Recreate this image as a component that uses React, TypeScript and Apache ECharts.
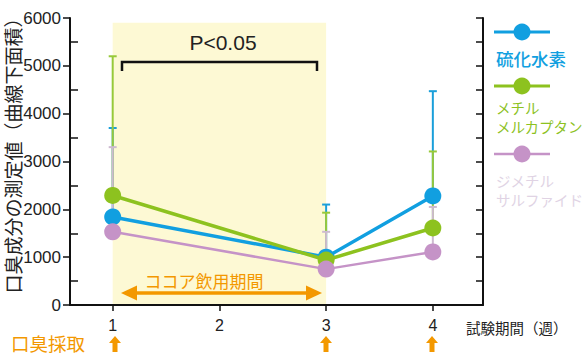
import React, { useEffect, useRef } from 'react';
import * as echarts from 'echarts';

// ---- data ----
const weeks = [1, 3, 4];
const h2sValues = [1840, 1000, 2280];
const h2sUpper = [3700, 2100, 4470];
const mmValues = [2290, 940, 1610];
const mmUpper = [5200, 1930, 3210];
const dmsValues = [1530, 750, 1110];
const dmsUpper = [3300, 1530, 2050];
const seriesNames = ['硫化水素', 'メチルメルカプタン', 'ジメチルサルファイド'];
const xTickValues = [1, 2, 3, 4];
const yMinorTicks = [500, 1500, 2500, 3500, 4500, 5500];
const cocoaPeriod = [1, 3];
const cocoaBandTop = 5900;

const BLUE = '#119fe0';
const GREEN = '#8dc21f';
const PURPLE = '#c593c7';
const ORANGE = '#f39800';
const FONT = 'Arial, "Liberation Sans", "Noto Sans CJK JP", sans-serif';
const JP = '"Noto Sans CJK JP", sans-serif';

function zipPts(xs: number[], ys: number[]) {
  return xs.map((x, i) => [x, ys[i]]);
}
function zipErr(xs: number[], lo: number[], hi: number[]) {
  return xs.map((x, i) => [x, lo[i], hi[i]]);
}

function errSeries(name: string, data: number[][], color: string, z: number) {
  return {
    type: 'custom',
    name: name + '-err',
    z,
    silent: true,
    encode: { x: 0, y: [1, 2] },
    data,
    renderItem: (params: any, api: any) => {
      const x = api.value(0);
      const p0 = api.coord([x, api.value(1)]);
      const p1 = api.coord([x, api.value(2)]);
      return {
        type: 'group',
        children: [
          { type: 'line', shape: { x1: p0[0], y1: p0[1], x2: p1[0], y2: p1[1] }, style: { stroke: color, lineWidth: 2 } },
          { type: 'line', shape: { x1: p1[0] - 4, y1: p1[1], x2: p1[0] + 4, y2: p1[1] }, style: { stroke: color, lineWidth: 2 } },
        ],
      };
    },
  };
}

function lineSeries(name: string, data: number[][], color: string, width: number, z: number) {
  return {
    type: 'line',
    name,
    data,
    z,
    symbol: 'circle',
    symbolSize: 17,
    showSymbol: true,
    lineStyle: { color, width },
    itemStyle: { color },
  };
}

function upArrow(cx: number) {
  return {
    type: 'polygon',
    z: 100,
    shape: {
      points: [
        [cx, 336], [cx + 6, 343], [cx + 2.5, 343], [cx + 2.5, 352],
        [cx - 2.5, 352], [cx - 2.5, 343], [cx - 6, 343],
      ],
    },
    style: { fill: ORANGE },
  };
}

export default function App() {
  const ref = useRef<HTMLDivElement>(null);
  useEffect(() => {
    if (!ref.current) return;
    const chart = echarts.init(ref.current, undefined, { renderer: 'svg' });
    const yCommon = { type: 'value', min: 0, max: 6000, splitLine: { show: false } };
    const arrowX = [115, 326, 432];
    const g = (el: any) => ({ z: 100, ...el });
    chart.setOption({
      animation: false,
      grid: { left: 70, right: 102, top: 18, bottom: 52, containLabel: false, outerBoundsMode: 'none' },
      xAxis: {
        type: 'value',
        min: 0.6,
        max: 4.47,
        splitLine: { show: false },
        axisLine: { show: true, lineStyle: { color: '#111', width: 2 } },
        axisTick: { show: true, customValues: xTickValues, length: 6, lineStyle: { color: '#111', width: 1.5 } },
        axisLabel: { customValues: xTickValues, fontSize: 16, color: '#222', margin: 12, fontFamily: FONT },
      },
      yAxis: [
        {
          ...yCommon,
          position: 'left',
          interval: 1000,
          axisLine: { show: true, lineStyle: { color: '#111', width: 2 } },
          axisTick: { show: true, length: 7, lineStyle: { color: '#111', width: 1.5 } },
          axisLabel: { fontSize: 17, color: '#222', margin: 9, fontFamily: FONT, formatter: (v: number) => String(v) },
        },
        {
          ...yCommon,
          position: 'left',
          axisLine: { show: false },
          axisTick: { show: true, inside: true, customValues: yMinorTicks, length: 8, lineStyle: { color: '#111', width: 1.5 } },
          axisLabel: { show: false },
        },
        {
          ...yCommon,
          position: 'right',
          interval: 500,
          axisLine: { show: true, lineStyle: { color: '#111', width: 2 } },
          axisTick: { show: true, inside: true, length: 7, lineStyle: { color: '#111', width: 1.5 } },
          axisLabel: { show: false },
        },
      ],
      series: [
        {
          type: 'custom',
          name: 'band',
          z: 0,
          silent: true,
          encode: { x: [0, 1], y: 2 },
          data: [[cocoaPeriod[0], cocoaPeriod[1], cocoaBandTop]],
          renderItem: (params: any, api: any) => {
            const a = api.coord([api.value(0), api.value(2)]);
            const b = api.coord([api.value(1), 0]);
            return { type: 'rect', shape: { x: a[0], y: a[1], width: b[0] - a[0], height: b[1] - a[1] }, style: { fill: '#fdf9d4' } };
          },
        },
        errSeries(seriesNames[0], zipErr(weeks, h2sValues, h2sUpper), '#1a9fda', 1),
        errSeries(seriesNames[1], zipErr(weeks, mmValues, mmUpper), '#97c93a', 1),
        errSeries(seriesNames[2], zipErr(weeks, dmsValues, dmsUpper), '#cdbad0', 1),
        lineSeries(seriesNames[0], zipPts(weeks, h2sValues), BLUE, 3.5, 3),
        lineSeries(seriesNames[1], zipPts(weeks, mmValues), GREEN, 3.5, 4),
        lineSeries(seriesNames[2], zipPts(weeks, dmsValues), PURPLE, 2.5, 5),
      ],
      graphic: [
        // y-axis title
        g({
          type: 'text', x: 12, y: 151, rotation: Math.PI / 2,
          style: { text: '口臭成分の測定値（曲線下面積）', fontSize: 19, fill: '#222', fontFamily: JP, align: 'center', verticalAlign: 'middle' },
        }),
        // significance bracket
        g({
          type: 'polyline',
          shape: { points: [[122, 71], [122, 62], [317, 62], [317, 71]] },
          style: { stroke: '#111', lineWidth: 2.5, fill: null },
        }),
        g({ type: 'text', x: 223, y: 42, style: { text: 'P<0.05', fontSize: 21, fill: '#222', fontFamily: FONT, align: 'center', verticalAlign: 'middle' } }),
        // cocoa period arrow
        g({ type: 'line', shape: { x1: 132, y1: 293, x2: 311, y2: 293 }, style: { stroke: ORANGE, lineWidth: 3.5 } }),
        g({ type: 'polygon', shape: { points: [[121, 293], [137, 285.5], [137, 300.5]] }, style: { fill: ORANGE } }),
        g({ type: 'polygon', shape: { points: [[322, 293], [306, 285.5], [306, 300.5]] }, style: { fill: ORANGE } }),
        g({ type: 'text', x: 204, y: 280, style: { text: 'ココア飲用期間', fontSize: 17, fill: ORANGE, fontFamily: JP, align: 'center', verticalAlign: 'middle' } }),
        // x-axis title
        g({ type: 'text', x: 466, y: 327, style: { text: '試験期間（週）', fontSize: 14.5, fill: '#222', fontFamily: JP, align: 'left', verticalAlign: 'middle' } }),
        // sampling
        g({ type: 'text', x: 11, y: 343, style: { text: '口臭採取', fontSize: 18.5, fill: ORANGE, fontFamily: JP, align: 'left', verticalAlign: 'middle' } }),
        ...arrowX.map((x) => upArrow(x)),
        // legend
        g({ type: 'line', shape: { x1: 494, y1: 32, x2: 550, y2: 32 }, style: { stroke: BLUE, lineWidth: 3 } }),
        g({ type: 'circle', shape: { cx: 522, cy: 32, r: 8.5 }, style: { fill: BLUE } }),
        g({ type: 'text', x: 496, y: 58, style: { text: '硫化水素', fontSize: 17.5, fill: BLUE, fontFamily: JP, fontWeight: 500, align: 'left', verticalAlign: 'middle' } }),
        g({ type: 'line', shape: { x1: 494, y1: 86, x2: 550, y2: 86 }, style: { stroke: GREEN, lineWidth: 3 } }),
        g({ type: 'circle', shape: { cx: 522, cy: 86, r: 8.5 }, style: { fill: GREEN } }),
        g({ type: 'text', x: 496, y: 107, style: { text: 'メチル', fontSize: 14.5, fill: GREEN, fontFamily: JP, align: 'left', verticalAlign: 'middle' } }),
        g({ type: 'text', x: 496, y: 126, style: { text: 'メルカプタン', fontSize: 14.5, fill: GREEN, fontFamily: JP, align: 'left', verticalAlign: 'middle' } }),
        g({ type: 'line', shape: { x1: 494, y1: 154, x2: 550, y2: 154 }, style: { stroke: PURPLE, lineWidth: 2.5 } }),
        g({ type: 'circle', shape: { cx: 522, cy: 154, r: 8.5 }, style: { fill: PURPLE } }),
        g({ type: 'text', x: 496, y: 180, style: { text: 'ジメチル', fontSize: 14.5, fill: '#e0d3e4', fontFamily: JP, align: 'left', verticalAlign: 'middle' } }),
        g({ type: 'text', x: 496, y: 199, style: { text: 'サルファイド', fontSize: 14.5, fill: '#e0d3e4', fontFamily: JP, align: 'left', verticalAlign: 'middle' } }),
      ],
    });
    return () => chart.dispose();
  }, []);
  return <div ref={ref} style={{ width: 585, height: 357, position: 'absolute', left: 0, top: 0 }} />;
}
